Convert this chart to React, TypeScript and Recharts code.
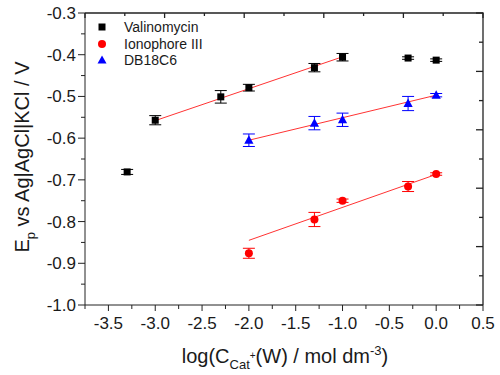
import React from 'react';
import {
  ScatterChart,
  Scatter,
  XAxis,
  YAxis,
  ErrorBar,
  Legend,
} from 'recharts';

// log concentration of the cation in water
const valX = [-3.3, -3, -2.3, -2, -1.3, -1, -0.3, 0];
const valY = [-0.681, -0.557, -0.501, -0.479, -0.431, -0.406, -0.408, -0.413];
const valErr = [0.006, 0.011, 0.015, 0.008, 0.01, 0.009, 0.003, 0.003];

const ionX = [-2, -1.3, -1, -0.3, 0];
const ionY = [-0.876, -0.795, -0.75, -0.716, -0.686];
const ionErr = [0.012, 0.017, 0.004, 0.012, 0.003];

const dbX = [-2, -1.3, -1, -0.3, 0];
const dbY = [-0.605, -0.564, -0.556, -0.517, -0.497];
const dbErr = [0.015, 0.016, 0.016, 0.017, 0.004];

// linear fits (end points)
const valFitX = [-3, -1];
const valFitY = [-0.558, -0.405];
const ionFitX = [-2, 0];
const ionFitY = [-0.845, -0.687];
const dbFitX = [-2, 0];
const dbFitY = [-0.605, -0.497];

const xDomain = [-3.75, 0.5];
const yDomain = [-1, -0.3];
const xTicks = [-3.75, -3.5, -3.25, -3, -2.75, -2.5, -2.25, -2, -1.75, -1.5, -1.25, -1, -0.75, -0.5, -0.25, 0, 0.25, 0.5];
const yTicks = [-1, -0.95, -0.9, -0.85, -0.8, -0.75, -0.7, -0.65, -0.6, -0.55, -0.5, -0.45, -0.4, -0.35, -0.3];

const zip = (xs: number[], ys: number[], errs?: number[]) =>
  xs.map((x, i) => ({ x, y: ys[i], err: errs ? errs[i] : 0 }));

const valData = zip(valX, valY, valErr);
const ionData = zip(ionX, ionY, ionErr);
const dbData = zip(dbX, dbY, dbErr);

// layout
const W = 500;
const H = 375;
const MARGIN = { top: 13, right: 17, left: 0, bottom: 0 };
const Y_AXIS_W = 85;
const X_AXIS_H = 70;
const PLOT_X = MARGIN.left + Y_AXIS_W;
const PLOT_Y = MARGIN.top;
const PLOT_W = W - MARGIN.right - MARGIN.left - Y_AXIS_W;
const PLOT_H = H - MARGIN.top - MARGIN.bottom - X_AXIS_H;
const FRAME_DIVS = 10; // unlabelled divisions on the top / right frame

const FONT = 'Arial, "Liberation Sans", Helvetica, sans-serif';
const TEXT = '#1a1a1a';
const AXIS = '#222';

const isMajor = (v: number, step: number) => Math.abs(v / step - Math.round(v / step)) < 1e-6;
const divs = Array.from({ length: FRAME_DIVS + 1 }, (_, i) => i);

const BottomTick = (props: any) => {
  const { x, y, payload } = props;
  const major = isMajor(payload.value, 0.5);
  return (
    <g>
      <line x1={x} x2={x} y1={y} y2={y + (major ? 6 : 4)} stroke={AXIS} />
      {major && (
        <text x={x} y={y + 24} textAnchor="middle" fontSize={17} fill={TEXT} fontFamily={FONT}>
          {payload.value.toFixed(1)}
        </text>
      )}
    </g>
  );
};

const LeftTick = (props: any) => {
  const { x, y, payload } = props;
  const major = isMajor(payload.value, 0.1);
  return (
    <g>
      <line x1={x} x2={x - (major ? 7 : 4)} y1={y} y2={y} stroke={AXIS} />
      {major && (
        <text x={x - 9} y={y + 6} textAnchor="end" fontSize={17} fill={TEXT} fontFamily={FONT}>
          {payload.value.toFixed(1)}
        </text>
      )}
    </g>
  );
};

// top and right frame lines with inward ticks, laid over the chart
const Frame = () => (
  <svg
    width={W}
    height={H}
    style={{ position: 'absolute', left: 0, top: 0, pointerEvents: 'none', zIndex: 10 }}
  >
    <g stroke={AXIS} strokeWidth={1.3} fill="none">
      <path d={`M${PLOT_X},${PLOT_Y} H${PLOT_X + PLOT_W} V${PLOT_Y + PLOT_H}`} />
      {divs.map((i) => {
        const tx = PLOT_X + (PLOT_W * i) / FRAME_DIVS;
        return <line key={`t${i}`} x1={tx} x2={tx} y1={PLOT_Y} y2={PLOT_Y + (i % 2 === 0 ? 5 : 3)} />;
      })}
      {divs.map((i) => {
        const ty = PLOT_Y + (PLOT_H * i) / FRAME_DIVS;
        const rx = PLOT_X + PLOT_W;
        return <line key={`r${i}`} x1={rx} x2={rx - (i % 2 === 0 ? 7 : 4)} y1={ty} y2={ty} />;
      })}
    </g>
  </svg>
);

const Square = (props: any) => {
  const { cx, cy, fill } = props;
  return <rect x={cx - 3.5} y={cy - 3.5} width={7} height={7} fill={fill} />;
};
const Dot = (props: any) => {
  const { cx, cy, fill } = props;
  return <circle cx={cx} cy={cy} r={4} fill={fill} />;
};
const Tri = (props: any) => {
  const { cx, cy, fill } = props;
  return <polygon points={`${cx},${cy - 5} ${cx + 4.6},${cy + 3.5} ${cx - 4.6},${cy + 3.5}`} fill={fill} />;
};
const NoShape = () => <g />;

const YTitle = () => (
  <text
    transform="translate(29,157) rotate(-90)"
    textAnchor="middle"
    fontSize={20}
    fill={TEXT}
    fontFamily={FONT}
  >
    E<tspan fontSize={13} dy={6}>p</tspan>
    <tspan dy={-6}> vs Ag|AgCl|KCl / V</tspan>
  </text>
);

const XTitle = () => (
  <text x={285} y={363} textAnchor="middle" fontSize={20} fill={TEXT} fontFamily={FONT}>
    log(C
    <tspan fontSize={13} dy={6}>Cat</tspan>
    <tspan fontSize={10} dy={-10}>+</tspan>
    <tspan dy={4}>(W) / mol dm</tspan>
    <tspan fontSize={13} dy={-8}>-3</tspan>
    <tspan dy={8}>)</tspan>
  </text>
);

const legendItems = [
  { name: 'Valinomycin', icon: 'square', color: '#000000' },
  { name: 'Ionophore III', icon: 'circle', color: '#ff0000' },
  { name: 'DB18C6', icon: 'triangle', color: '#0000ff' },
];

const LegendBox = () => (
  <div style={{ fontFamily: FONT, fontSize: 14, color: TEXT }}>
    {legendItems.map((it) => (
      <div key={it.name} style={{ display: 'flex', alignItems: 'center', height: 16.5 }}>
        <svg width={10} height={10} style={{ marginRight: 17 }}>
          {it.icon === 'square' && <rect x={1.5} y={1.5} width={7} height={7} fill={it.color} />}
          {it.icon === 'circle' && <circle cx={5} cy={5} r={4} fill={it.color} />}
          {it.icon === 'triangle' && <polygon points="5,0.5 9.5,8.5 0.5,8.5" fill={it.color} />}
        </svg>
        <span>{it.name}</span>
      </div>
    ))}
  </div>
);

export default function App() {
  return (
    <div style={{ position: 'absolute', left: 0, top: 0, width: W, height: H, background: '#fff' }}>
      <ScatterChart width={W} height={H} margin={MARGIN}>
        <XAxis
          type="number"
          dataKey="x"
          domain={xDomain}
          ticks={xTicks}
          interval={0}
          height={X_AXIS_H}
          tickSize={0}
          tickMargin={0}
          tickLine={false}
          tick={<BottomTick />}
          axisLine={{ stroke: AXIS }}
          label={{ content: <XTitle /> }}
        />
        <YAxis
          type="number"
          dataKey="y"
          domain={yDomain}
          ticks={yTicks}
          interval={0}
          width={Y_AXIS_W}
          tickSize={0}
          tickMargin={0}
          tickLine={false}
          tick={<LeftTick />}
          axisLine={{ stroke: AXIS }}
          label={{ content: <YTitle /> }}
        />
        <Legend
          layout="vertical"
          align="center"
          verticalAlign="middle"
          content={<LegendBox />}
          wrapperStyle={{ left: 97, top: 19, width: 'auto', height: 'auto' }}
        />
        <Scatter
          name="valFit"
          data={zip(valFitX, valFitY)}
          line={{ stroke: '#ff3333', strokeWidth: 1 }}
          shape={<NoShape />}
          legendType="none"
          isAnimationActive={false}
        />
        <Scatter
          name="ionFit"
          data={zip(ionFitX, ionFitY)}
          line={{ stroke: '#ff3333', strokeWidth: 1 }}
          shape={<NoShape />}
          legendType="none"
          isAnimationActive={false}
        />
        <Scatter
          name="dbFit"
          data={zip(dbFitX, dbFitY)}
          line={{ stroke: '#ff3333', strokeWidth: 1 }}
          shape={<NoShape />}
          legendType="none"
          isAnimationActive={false}
        />
        <Scatter name="Valinomycin" data={valData} fill="#000000" shape={<Square />} isAnimationActive={false}>
          <ErrorBar dataKey="err" direction="y" width={6} stroke="#000000" strokeWidth={1} />
        </Scatter>
        <Scatter name="Ionophore III" data={ionData} fill="#ff0000" shape={<Dot />} isAnimationActive={false}>
          <ErrorBar dataKey="err" direction="y" width={6} stroke="#ff0000" strokeWidth={1} />
        </Scatter>
        <Scatter name="DB18C6" data={dbData} fill="#0000ff" shape={<Tri />} isAnimationActive={false}>
          <ErrorBar dataKey="err" direction="y" width={6} stroke="#0000ff" strokeWidth={1} />
        </Scatter>
      </ScatterChart>
      <Frame />
    </div>
  );
}
